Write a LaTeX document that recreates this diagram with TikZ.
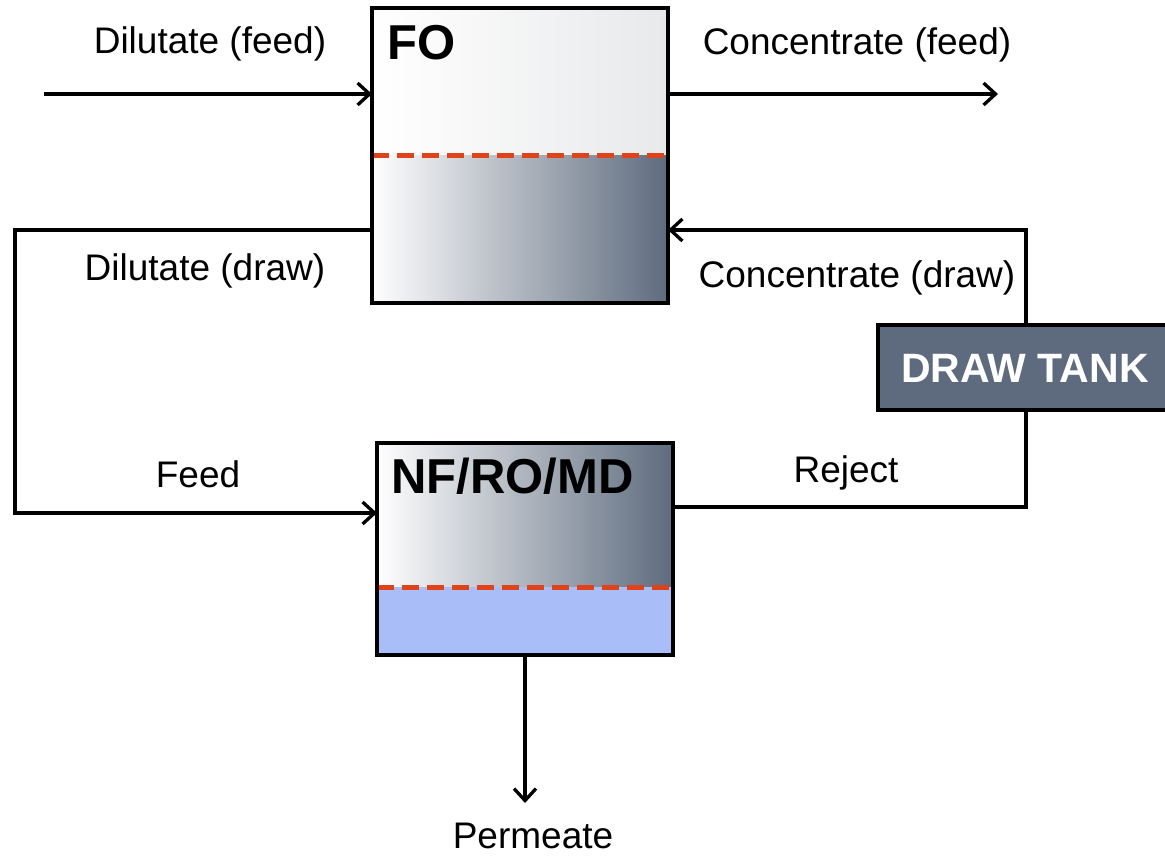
\documentclass[tikz,border=0pt]{standalone}
\usepackage{fontspec}
\setmainfont{Liberation Sans}
\usetikzlibrary{arrows.meta,calc}
\definecolor{slate}{HTML}{5E6B7E}
\definecolor{fotop}{HTML}{E8E9EB}
\definecolor{permblue}{HTML}{A9BDF8}
\definecolor{membrane}{HTML}{E0421A}
\tikzset{
  unitbox/.style={inner sep=0pt, outer sep=0pt},
  boxline/.style={line width=3.8pt, draw=black, line join=miter},
  membraneline/.style={draw=membrane, line width=5pt, dash pattern=on 17pt off 8pt},
  flow/.style={line width=3.3pt, line join=miter, draw=black},
  flowarrow/.style={flow, -{Straight Barb[length=12pt,width=22pt,line width=3.3pt]}},
  lbl/.style={font=\fontsize{37}{44}\selectfont, anchor=base, inner sep=0pt},
  unitlbl/.style={font=\fontsize{49}{56}\selectfont\bfseries, anchor=base west, inner sep=0pt},
  tanklbl/.style={font=\fontsize{41}{48}\selectfont\bfseries, text=white, anchor=base, inner sep=0pt}
}
\begin{document}
\begin{tikzpicture}[x=1pt,y=-1pt]
\useasboundingbox (0,0) rectangle (1165,856);
\clip (0,0) rectangle (1165,856);

% unit nodes
\node[unitbox, minimum width=296pt, minimum height=295pt] (fo) at (520,155.5) {};
\node[unitbox, minimum width=296pt, minimum height=212pt] (nf) at (525,549) {};
\node[unitbox, minimum width=297pt, minimum height=85pt, fill=slate] (tank) at (1026.5,367.5) {};

% FO fills
\shade[left color=white, right color=fotop] (fo.north west) rectangle (fo.east);
\shade[left color=white, right color=slate] (fo.west) rectangle (fo.south east);
\draw[membraneline] (fo.west) -- (fo.east);
\draw[boxline] (fo.north west) rectangle (fo.south east);

% NF fills
\coordinate (nfm) at ($(nf.south west)+(0,-68)$);
\shade[left color=white, right color=slate] (nf.north west) rectangle (nfm -| nf.east);
\fill[permblue] (nfm) rectangle (nf.south east);
\draw[membraneline] (nfm) -- (nfm -| nf.east);
\draw[boxline] (nf.north west) rectangle (nf.south east);

% tank border
\draw[boxline] (tank.north west) rectangle (tank.south east);

% unit labels
\node[unitlbl] (folbl) at ($(fo.north west)+(15,52)$) {FO};
\node[unitlbl] (nflbl) at ($(nf.north west)+(14,50)$) {NF/RO/MD};
\node[tanklbl] (tanklbl) at (1025,382) {DRAW TANK};

% connector coordinates
\coordinate (in1) at (44,94);
\coordinate (out1) at (998,94);
\coordinate (c1) at (15,230);
\coordinate (c2) at (15,513);
\coordinate (c3) at (1026,507);
\coordinate (c4) at (1026,230);
\coordinate (perm) at (525,803);

% connectors
\draw[flowarrow] (in1) -- (fo.west |- in1);
\draw[flowarrow] (fo.east |- out1) -- (out1);
\draw[flowarrow] (fo.west |- c1) -- (c1) -- (c2) -- (nf.west |- c2);
\draw[flow] (nf.east |- c3) -- (c3) -- (tank.south -| c3);
\draw[flowarrow] (tank.north -| c4) -- (c4) -- (fo.east |- c4);
\draw[flowarrow] (nf.south) -- (perm);

% flow labels
\node[lbl] (l1) at (210,54) {Dilutate (feed)};
\node[lbl] (l2) at (857,55) {Concentrate (feed)};
\node[lbl] (l3) at (205,280) {Dilutate (draw)};
\node[lbl] (l4) at (857,287) {Concentrate (draw)};
\node[lbl] (l5) at (198,487) {Feed};
\node[lbl] (l6) at (846,482) {Reject};
\node[lbl] (l7) at (533,848) {Permeate};
\end{tikzpicture}
\end{document}
